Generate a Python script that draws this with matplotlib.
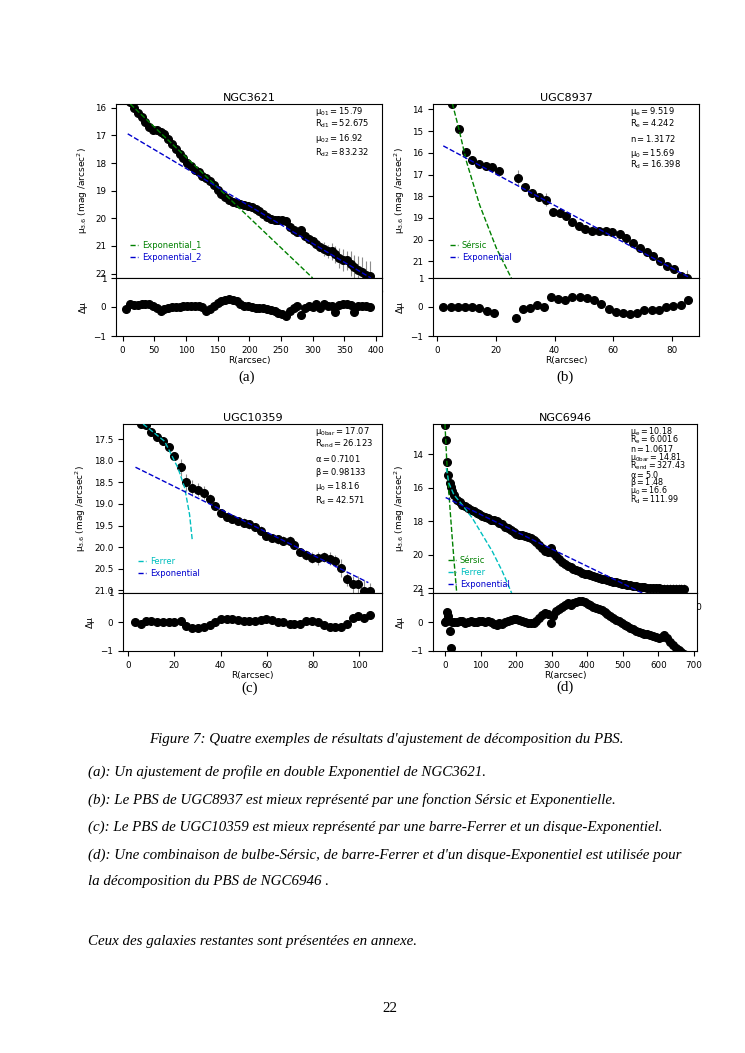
import matplotlib
matplotlib.use('Agg')
import matplotlib.pyplot as plt

plt.rcParams['font.family'] = 'DejaVu Sans'
plt.rcParams['mathtext.default'] = 'regular'
plt.rcParams['xtick.labelsize'] = 6.3
plt.rcParams['ytick.labelsize'] = 6.3
plt.rcParams['axes.labelsize'] = 6.5
plt.rcParams['axes.titlesize'] = 8

# ---------------- (a) NGC3621 : double exponential ----------------
r_a = [6, 12, 18, 24, 30, 36, 42, 48, 54, 60,
       66, 72, 78, 84, 90, 96, 102, 108, 114, 120,
       126, 132, 138, 144, 150, 156, 162, 168, 174, 180,
       186, 192, 198, 204, 210, 216, 222, 228, 234, 240,
       246, 252, 258, 264, 270, 276, 282, 288, 294, 300,
       306, 312, 318, 324, 330, 336, 342, 348, 354, 360,
       366, 372, 378, 384, 390]
mu_a = [15.70, 15.80, 16.00, 16.20, 16.33, 16.50, 16.70, 16.79, 16.81, 16.86,
        16.96, 17.12, 17.30, 17.48, 17.66, 17.82, 17.98, 18.12, 18.24, 18.34,
        18.45, 18.55, 18.65, 18.80, 18.96, 19.12, 19.24, 19.34, 19.40, 19.44,
        19.47, 19.51, 19.56, 19.60, 19.65, 19.74, 19.84, 19.94, 20.02, 20.07,
        20.07, 20.07, 20.08, 20.33, 20.42, 20.50, 20.43, 20.65, 20.75, 20.82,
        20.92, 21.02, 21.12, 21.20, 21.20, 21.30, 21.43, 21.50, 21.52, 21.65,
        21.77, 21.88, 21.95, 22.04, 22.10]
err_a = [0.02, 0.02, 0.02, 0.02, 0.02, 0.02, 0.02, 0.02, 0.02, 0.02,
         0.02, 0.02, 0.02, 0.02, 0.02, 0.02, 0.02, 0.02, 0.02, 0.02,
         0.02, 0.02, 0.02, 0.02, 0.02, 0.02, 0.02, 0.02, 0.02, 0.02,
         0.02, 0.02, 0.02, 0.02, 0.03, 0.03, 0.03, 0.04, 0.04, 0.05,
         0.05, 0.05, 0.06, 0.08, 0.06, 0.08, 0.10, 0.12, 0.15, 0.12,
         0.20, 0.18, 0.25, 0.22, 0.30, 0.30, 0.35, 0.40, 0.35, 0.45,
         0.45, 0.50, 0.55, 0.50, 0.55]
dmu_a = [-0.07, 0.09, 0.06, 0.06, 0.09, 0.11, 0.10, 0.05, -0.05, -0.15,
         -0.08, -0.02, 0.00, 0.00, 0.01, 0.02, 0.03, 0.04, 0.05, 0.04,
         0.01, -0.13, -0.06, 0.05, 0.15, 0.20, 0.24, 0.26, 0.24, 0.20,
         0.10, 0.05, 0.02, 0.00, -0.02, -0.03, -0.05, -0.08, -0.11, -0.14,
         -0.19, -0.24, -0.30, -0.14, -0.02, 0.02, -0.26, -0.02, 0.02, 0.00,
         0.10, -0.02, 0.09, 0.04, 0.05, -0.16, 0.08, 0.10, 0.10, 0.06,
         -0.16, 0.04, 0.02, 0.03, 0.00]
exp1_a_r = [12, 300]
exp1_a_mu = [15.86, 22.16]
exp2_a_r = [8, 392]
exp2_a_mu = [16.94, 22.16]
par_a = [r'$μ_{01} = 15.79$', r'$R_{d1} = 52.675$', r'$μ_{02} = 16.92$', r'$R_{d2} = 83.232$']

# ---------------- (b) UGC8937 : Sersic + exponential ----------------
r_b = [5.1, 7.4, 9.7, 11.9, 14.3, 16.6, 18.8, 21.1,
       27.6, 30.0, 32.4, 34.7, 37.0, 39.4, 41.7, 44.0,
       46.0, 48.2, 50.5, 52.8, 55.1, 57.4, 59.7, 62.2, 64.5, 66.8,
       69.1, 71.4, 73.7, 76.0, 78.3, 80.6, 82.9, 85.2]
mu_b = [13.77, 14.92, 15.96, 16.34, 16.53, 16.62, 16.66, 16.82,
        17.15, 17.58, 17.83, 18.04, 18.17, 18.72, 18.78, 18.90,
        19.20, 19.36, 19.53, 19.59, 19.60, 19.60, 19.67, 19.76, 19.94, 20.14,
        20.37, 20.55, 20.74, 20.98, 21.20, 21.36, 21.70, 21.78]
err_b = [0.02, 0.02, 0.02, 0.02, 0.02, 0.02, 0.02, 0.02,
         0.35, 0.05, 0.05, 0.05, 0.30, 0.05, 0.15, 0.05,
         0.05, 0.15, 0.05, 0.10, 0.05, 0.10, 0.05, 0.05, 0.05, 0.05,
         0.05, 0.05, 0.05, 0.05, 0.05, 0.05, 0.05, 0.40]
r_b_res = [2.1, 4.6, 7.0, 9.5, 11.9, 14.4, 16.9, 19.4,
           26.7, 29.2, 31.6, 34.0, 36.3, 38.8, 41.2, 43.7, 46.1, 48.6,
           51.0, 53.5, 55.9, 58.4, 60.8, 63.3, 65.7, 68.2, 70.6, 73.1,
           75.5, 78.0, 80.4, 82.9, 85.3]
dmu_b = [0.0, 0.0, 0.0, 0.0, 0.01, -0.05, -0.15, -0.20,
         -0.37, -0.08, -0.02, 0.06, -0.01, 0.35, 0.27, 0.23, 0.36, 0.34,
         0.32, 0.23, 0.10, -0.06, -0.17, -0.22, -0.23, -0.20, -0.10, -0.09,
         -0.09, 0.00, 0.05, 0.08, 0.23]
sersic_b_r = [5.2, 7.4, 10.0, 14.5, 20.2, 25.3]
sersic_b_mu = [13.73, 14.89, 16.40, 18.41, 20.40, 21.78]
exp_b_r = [2.1, 85.7]
exp_b_mu = [15.68, 21.73]
par_b = [r'$μ_{e} = 9.519$', r'$R_{e} = 4.242$', r'$n = 1.3172$', r'$μ_{0} = 15.69$', r'$R_{d} = 16.398$']

# ---------------- (c) UGC10359 : Ferrer bar + exponential ----------------
r_c = [2.9, 5.5, 7.9, 10.1, 12.7, 15.1, 17.6, 19.9, 22.7, 25.2,
       27.8, 30.2, 32.8, 35.3, 37.7, 40.3, 42.7, 45.0, 47.5, 50.1,
       52.5, 54.7, 57.3, 59.7, 62.2, 64.7, 67.2, 69.8, 71.9, 74.5,
       77.0, 79.4, 82.0, 84.6, 87.1, 89.5, 92.1, 94.5, 97.1, 99.6,
       102.2, 104.7]
mu_c = [17.00, 17.15, 17.17, 17.34, 17.44, 17.54, 17.69, 17.88, 18.15, 18.50,
        18.63, 18.67, 18.74, 18.88, 19.05, 19.20, 19.30, 19.35, 19.39, 19.43,
        19.47, 19.53, 19.62, 19.74, 19.79, 19.82, 19.85, 19.86, 19.95, 20.11,
        20.18, 20.24, 20.26, 20.23, 20.27, 20.32, 20.48, 20.74, 20.86, 20.86,
        21.02, 21.02]
err_c = [0.02, 0.02, 0.02, 0.02, 0.02, 0.02, 0.03, 0.05, 0.20, 0.20,
         0.18, 0.15, 0.15, 0.10, 0.08, 0.06, 0.08, 0.08, 0.08, 0.10,
         0.10, 0.08, 0.10, 0.10, 0.10, 0.10, 0.10, 0.12, 0.08, 0.10,
         0.12, 0.12, 0.15, 0.12, 0.15, 0.15, 0.20, 0.15, 0.20, 0.20,
         0.25, 0.20]
dmu_c = [0.0, -0.07, 0.05, 0.05, 0.0, 0.0, 0.0, 0.0, 0.03, -0.14,
         -0.20, -0.20, -0.16, -0.10, 0.0, 0.09, 0.09, 0.09, 0.06, 0.03,
         0.03, 0.03, 0.07, 0.09, 0.07, 0.01, 0.01, -0.08, -0.06, -0.06,
         0.03, 0.03, -0.01, -0.10, -0.16, -0.16, -0.16, -0.06, 0.15, 0.19,
         0.13, 0.24]
ferrer_c_r = [6.5, 15.8, 21.6, 24.5, 26.6, 27.8]
ferrer_c_mu = [17.15, 17.55, 18.17, 18.63, 19.25, 19.86]
exp_c_r = [3.2, 103.9]
exp_c_mu = [18.15, 20.82]
par_c = [r'$μ_{0bar} = 17.07$', r'$R_{end} = 26.123$', r'$α = 0.7101$', r'$β = 0.98133$',
         r'$μ_{0} = 18.16$', r'$R_{d} = 42.571$']

# ---------------- (d) NGC6946 : Sersic + Ferrer + exponential ----------------
r_d = [0, 2, 5, 9, 13, 17, 21, 25,
       33, 41, 49, 57, 65, 73, 81, 89, 97, 105,
       113, 121, 129, 137, 145, 153, 161, 169, 177, 185,
       193, 201, 209, 217, 225, 233, 241, 249, 257, 265,
       273, 281, 289, 297, 305, 313, 321, 329, 337, 345,
       353, 361, 369, 377, 385, 393, 401, 409, 417, 425,
       433, 441, 449, 457, 465, 473, 481, 489, 497, 505,
       513, 521, 529, 537, 545, 553, 561, 569, 577, 585,
       593, 601, 609, 617, 625, 633, 641, 649, 657, 665, 673]
mu_d = [12.25, 13.15, 14.44, 15.25, 15.70, 15.98, 16.22, 16.42,
        16.72, 16.86, 17.00, 17.10, 17.20, 17.30, 17.40, 17.48, 17.57, 17.66,
        17.74, 17.82, 17.90, 17.92, 17.96, 18.09, 18.16, 18.31, 18.42, 18.53,
        18.65, 18.76, 18.80, 18.83, 18.88, 18.92, 19.00, 19.11, 19.26, 19.44,
        19.62, 19.78, 19.82, 19.62, 19.92, 20.10, 20.25, 20.40, 20.55, 20.65,
        20.75, 20.83, 20.90, 20.98, 21.06, 21.12, 21.17, 21.22, 21.28, 21.33,
        21.38, 21.42, 21.47, 21.52, 21.56, 21.60, 21.64, 21.68, 21.72, 21.75,
        21.79, 21.82, 21.85, 21.88, 21.91, 21.93, 21.95, 21.97, 21.98, 21.99,
        22.00, 22.01, 22.05, 22.04, 22.03, 22.04, 22.04, 22.04, 22.05, 22.05, 22.05]
err_d = [0.02, 0.02, 0.02, 0.02, 0.02, 0.02, 0.02, 0.02,
         0.02, 0.02, 0.02, 0.02, 0.02, 0.02, 0.02, 0.02, 0.02, 0.02,
         0.02, 0.02, 0.02, 0.02, 0.02, 0.02, 0.02, 0.02, 0.02, 0.02,
         0.02, 0.02, 0.02, 0.02, 0.02, 0.03, 0.03, 0.03, 0.03, 0.04,
         0.04, 0.04, 0.04, 0.05, 0.05, 0.05, 0.05, 0.06, 0.06, 0.06,
         0.06, 0.07, 0.07, 0.08, 0.08, 0.09, 0.09, 0.10, 0.10, 0.11,
         0.12, 0.12, 0.13, 0.14, 0.15, 0.15, 0.16, 0.17, 0.18, 0.18,
         0.19, 0.20, 0.20, 0.21, 0.22, 0.22, 0.23, 0.24, 0.24, 0.25,
         0.25, 0.26, 0.26, 0.27, 0.27, 0.28, 0.28, 0.28, 0.29, 0.29, 0.30]
dmu_d = [0.0, 0.02, 0.34, 0.22, -0.30, -0.90, 0.0, 0.0,
         0.0, 0.02, 0.03, -0.02, 0.0, 0.02, 0.01, 0.0, 0.02, 0.03,
         0.0, 0.02, 0.0, -0.08, -0.10, -0.05, -0.07, 0.0, 0.03, 0.06,
         0.10, 0.12, 0.08, 0.03, 0.0, -0.04, -0.05, -0.02, 0.05, 0.15,
         0.25, 0.32, 0.28, -0.02, 0.22, 0.38, 0.45, 0.52, 0.60, 0.64,
         0.60, 0.65, 0.70, 0.74, 0.72, 0.68, 0.62, 0.57, 0.52, 0.48,
         0.44, 0.40, 0.33, 0.27, 0.22, 0.15, 0.08, 0.02, -0.04, -0.10,
         -0.15, -0.20, -0.25, -0.30, -0.34, -0.37, -0.40, -0.42, -0.45, -0.48,
         -0.52, -0.55, -0.50, -0.44, -0.55, -0.68, -0.80, -0.90, -0.97, -1.05, -1.12]
sersic_d_r = [0, 2, 5, 9, 14, 20, 26, 33]
sersic_d_mu = [12.19, 13.10, 14.40, 15.60, 17.20, 18.90, 20.50, 22.28]
ferrer_d_r = [3.7, 11.2, 25.3, 48.7, 76.9, 105, 133, 161, 187.4]
ferrer_d_mu = [14.83, 15.73, 16.42, 17.02, 17.81, 18.80, 19.79, 20.98, 22.28]
exp_d_r = [1.9, 554.8]
exp_d_mu = [16.58, 22.28]
par_d = [r'$μ_{e} = 10.18$', r'$R_{e} = 6.0016$', r'$n = 1.0617$', r'$μ_{0bar} = 14.81$',
         r'$R_{end} = 327.43$', r'$α = 5.0$', r'$β = 1.48$', r'$μ_{0} = 16.6$', r'$R_{d} = 111.99$']

W, H = 745, 1053
fig = plt.figure(figsize=(W / 100, H / 100), dpi=100)


def px_box(left, top, right, bottom):
    # pixel box on the page -> figure fraction
    return [left / W, 1 - bottom / H, (right - left) / W, (bottom - top) / H]


def draw_panel(left, right, top, mid, bottom, title, r, mu, err, r_res, dmu,
               fits, params, par_x, par_y, xlim, ylim, leg_xy, par_size=6):
    ax = fig.add_axes(px_box(left, top, right, mid))
    ax.errorbar(r, mu, yerr=err, fmt='o', color='black', ms=5.5,
                ecolor='0.55', elinewidth=0.8, capsize=0, zorder=2)
    for fr, fmu, col, lab in fits:
        ax.plot(fr, fmu, '--', color=col, lw=1.0, label=lab, zorder=3)
    ax.set_xlim(xlim)
    ax.set_ylim(ylim)
    ax.set_title(title, pad=2)
    ax.set_ylabel(r'$μ_{3.6}$ (mag /arcsec$^2$)')
    for txt, y in zip(params, par_y):
        ax.text(par_x, y, txt, transform=ax.transAxes, fontsize=par_size, va='center')
    ax.legend(loc='lower left', bbox_to_anchor=leg_xy, frameon=False, fontsize=6,
              handlelength=1.0, handletextpad=0.4, borderpad=0, borderaxespad=0,
              labelspacing=0.35, labelcolor='linecolor')

    # residual panel on top of the main one
    axr = fig.add_axes(px_box(left, mid, right, bottom))
    axr.plot(r_res, dmu, 'o', color='black', ms=5.5)
    axr.set_xlim(xlim)
    axr.set_ylim(-1, 1)
    axr.set_yticks([-1, 0, 1])
    axr.set_xlabel('R(arcsec)', labelpad=1)
    axr.set_ylabel('Δμ')
    fig.align_ylabels([ax, axr])


draw_panel(116, 382, 104, 278, 336, 'NGC3621', r_a, mu_a, err_a, r_a, dmu_a,
           [(exp1_a_r, exp1_a_mu, 'green', 'Exponential_1'),
            (exp2_a_r, exp2_a_mu, 'mediumblue', 'Exponential_2')],
           par_a, 0.748, [0.956, 0.889, 0.803, 0.717],
           (-10.5, 409.5), (22.16, 15.86), (0.053, 0.092))

draw_panel(433, 699, 104, 278, 336, 'UGC8937', r_b, mu_b, err_b, r_b_res, dmu_b,
           [(sersic_b_r, sersic_b_mu, 'green', 'Sérsic'),
            (exp_b_r, exp_b_mu, 'mediumblue', 'Exponential')],
           par_b, 0.741, [0.956, 0.889, 0.803, 0.717, 0.649],
           (-1.4, 89.2), (21.77, 13.75), (0.064, 0.092))

draw_panel(123, 382, 424, 593, 651, 'UGC10359', r_c, mu_c, err_c, r_c, dmu_c,
           [(ferrer_c_r, ferrer_c_mu, 'c', 'Ferrer'),
            (exp_c_r, exp_c_mu, 'mediumblue', 'Exponential')],
           par_c, 0.741, [0.954, 0.886, 0.797, 0.714, 0.629, 0.546],
           (-2.2, 109.8), (21.06, 17.15), (0.058, 0.089))

draw_panel(433, 697, 424, 593, 651, 'NGC6946', r_d, mu_d, err_d, r_d, dmu_d,
           [(sersic_d_r, sersic_d_mu, 'green', 'Sérsic'),
            (ferrer_d_r, ferrer_d_mu, 'c', 'Ferrer'),
            (exp_d_r, exp_d_mu, 'mediumblue', 'Exponential')],
           par_d, 0.746, [0.954, 0.904, 0.854, 0.804, 0.754, 0.704, 0.654, 0.604, 0.554],
           (-33.7, 708.7), (22.28, 12.19), (0.057, 0.024), par_size=5.8)

# page text around the figure
serif = 'Liberation Serif'


def page_text(x, y, s, ha='left', style='italic'):
    fig.text(x / W, 1 - y / H, s, ha=ha, va='center', family=serif, style=style, fontsize=10.8)


page_text(247, 377, '(a)', ha='center', style='normal')
page_text(565, 377, '(b)', ha='center', style='normal')
page_text(250, 688, '(c)', ha='center', style='normal')
page_text(565, 687, '(d)', ha='center', style='normal')

page_text(386, 740, "Figure 7: Quatre exemples de résultats d'ajustement de décomposition du PBS.", ha='center')
page_text(88, 772, "(a): Un ajustement de profile en double Exponentiel de NGC3621.")
page_text(88, 800, "(b): Le PBS de UGC8937 est mieux représenté par une fonction Sérsic et Exponentielle.")
page_text(88, 827, "(c): Le PBS de UGC10359 est mieux représenté par une barre-Ferrer et un disque-Exponentiel.")
page_text(88, 855, "(d): Une combinaison de bulbe-Sérsic, de barre-Ferrer et d'un disque-Exponentiel est utilisée pour")
page_text(88, 882, "la décomposition du PBS de NGC6946 .")
page_text(88, 941, "Ceux des galaxies restantes sont présentées en annexe.")
page_text(390, 1008, "22", ha='center', style='normal')

fig.savefig('out.png', dpi=100)
